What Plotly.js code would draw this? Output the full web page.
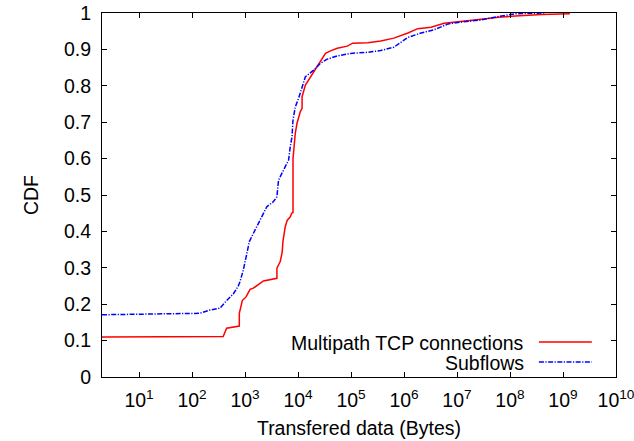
<!DOCTYPE html>
<html>
<head>
<meta charset="utf-8">
<script src="https://cdn.plot.ly/plotly-3.0.1.min.js"></script>
<style>html,body{margin:0;padding:0;background:#fff;}#chart{width:634px;height:441px;}</style>
</head>
<body>
<div id="chart"></div>
<script>
// Data (x = bytes, y = CDF)
const mptcpBytes = [2, 387, 450, 695, 780, 780, 889, 1045, 1244, 1436, 2223, 3996, 3996, 4615, 5035, 5190, 5741, 6266, 7145, 7600, 8036, 8036, 8887, 9570, 11060, 11920, 11920, 13770, 15900, 21290, 26490, 32960, 41020, 54960, 85090, 107200, 206400, 364400, 643200, 1186000, 1812000, 3236000, 5713000, 12020000, 28790000, 60520000, 127100000, 396000000, 1346000000];
const mptcpCdf   = [0.110, 0.111, 0.134, 0.138, 0.140, 0.175, 0.210, 0.220, 0.241, 0.244, 0.264, 0.271, 0.299, 0.317, 0.344, 0.372, 0.413, 0.431, 0.440, 0.450, 0.452, 0.600, 0.670, 0.697, 0.729, 0.738, 0.770, 0.802, 0.816, 0.843, 0.866, 0.889, 0.896, 0.903, 0.909, 0.917, 0.918, 0.923, 0.931, 0.945, 0.957, 0.961, 0.972, 0.978, 0.983, 0.988, 0.992, 0.996, 0.998];

const subflowBytes = [2, 140, 217, 336, 450, 600, 747, 804, 929, 1077, 1207, 1549, 1927, 2223, 2581, 3445, 3996, 4284, 5333, 6633, 7145, 7695, 8036, 8887, 10260, 11920, 13770, 19780, 26490, 35450, 54960, 98200, 206400, 364400, 643200, 1186000, 2094000, 3690000, 6808000, 12020000, 28790000, 63240000, 127100000, 472000000];
const subflowCdf   = [0.171, 0.175, 0.184, 0.189, 0.210, 0.228, 0.250, 0.262, 0.294, 0.340, 0.372, 0.404, 0.431, 0.450, 0.468, 0.482, 0.495, 0.541, 0.569, 0.596, 0.633, 0.660, 0.706, 0.742, 0.766, 0.798, 0.825, 0.843, 0.862, 0.873, 0.882, 0.889, 0.892, 0.897, 0.906, 0.933, 0.945, 0.954, 0.970, 0.975, 0.981, 0.991, 0.998, 1.000];

const seriesNames = ["Multipath TCP connections", "Subflows"];
const xTickVals = [1e1, 1e2, 1e3, 1e4, 1e5, 1e6, 1e7, 1e8, 1e9, 1e10];
const xTickText = ["10<sup>1</sup>", "10<sup>2</sup>", "10<sup>3</sup>", "10<sup>4</sup>", "10<sup>5</sup>", "10<sup>6</sup>", "10<sup>7</sup>", "10<sup>8</sup>", "10<sup>9</sup>", "10<sup>10</sup>"];
const yTickVals = [0, 0.1, 0.2, 0.3, 0.4, 0.5, 0.6, 0.7, 0.8, 0.9, 1];
const yTickText = ["0", "0.1", "0.2", "0.3", "0.4", "0.5", "0.6", "0.7", "0.8", "0.9", "1"];
const xTitle = "Transfered data (Bytes)";
const yTitle = "CDF";

const FONT = '"Liberation Sans", Arial, Helvetica, sans-serif';
const FS = 19.5;
const RED = '#ff0000', BLUE = '#0000ff';
const BLUE_DASH = '5px,1.5px,1.2px,1.5px';

const traces = [
  {x: mptcpBytes, y: mptcpCdf, name: seriesNames[0], type: 'scatter', mode: 'lines',
   line: {color: RED, width: 1.5}, showlegend: false},
  {x: subflowBytes, y: subflowCdf, name: seriesNames[1], type: 'scatter', mode: 'lines',
   line: {color: BLUE, width: 1.5, dash: BLUE_DASH}, showlegend: false}
];

const axisCommon = {
  showline: true, linecolor: '#000', linewidth: 1, mirror: 'ticks',
  ticks: 'inside', ticklen: 5, tickcolor: '#000', tickwidth: 1,
  showgrid: false, zeroline: false,
  ticklabeloverflow: 'allow',
  tickfont: {family: FONT, size: FS, color: '#000'}
};

const layout = {
  width: 634, height: 441,
  margin: {l: 102, r: 18, t: 13, b: 64},
  paper_bgcolor: '#fff', plot_bgcolor: '#fff',
  font: {family: FONT, size: FS, color: '#000'},
  xaxis: Object.assign({}, axisCommon, {
    type: 'log', range: [Math.log10(2), 10],
    tickmode: 'array', tickvals: xTickVals, ticktext: xTickText,
    ticklabelstandoff: 6,
    title: {text: xTitle, font: {family: FONT, size: FS, color: '#000'}, standoff: 10}
  }),
  yaxis: Object.assign({}, axisCommon, {
    range: [0, 1],
    tickmode: 'array', tickvals: yTickVals, ticktext: yTickText,
    ticklabelstandoff: 6,
    title: {text: yTitle, font: {family: FONT, size: FS, color: '#000'}, standoff: 20}
  }),
  annotations: [
    {xref: 'paper', yref: 'paper', x: 0.825, y: 0.094, xanchor: 'right', yanchor: 'middle',
     text: seriesNames[0], showarrow: false, font: {family: FONT, size: FS, color: '#000'}},
    {xref: 'paper', yref: 'paper', x: 0.825, y: 0.039, xanchor: 'right', yanchor: 'middle',
     text: seriesNames[1], showarrow: false, font: {family: FONT, size: FS, color: '#000'}}
  ],
  shapes: [
    {type: 'line', xref: 'paper', yref: 'paper', x0: 0.850, x1: 0.953, y0: 0.096, y1: 0.096,
     line: {color: RED, width: 1.5}},
    {type: 'line', xref: 'paper', yref: 'paper', x0: 0.850, x1: 0.953, y0: 0.041, y1: 0.041,
     line: {color: BLUE, width: 1.5, dash: BLUE_DASH}}
  ]
};

Plotly.newPlot('chart', traces, layout, {staticPlot: true, displayModeBar: false});
</script>
</body>
</html>
